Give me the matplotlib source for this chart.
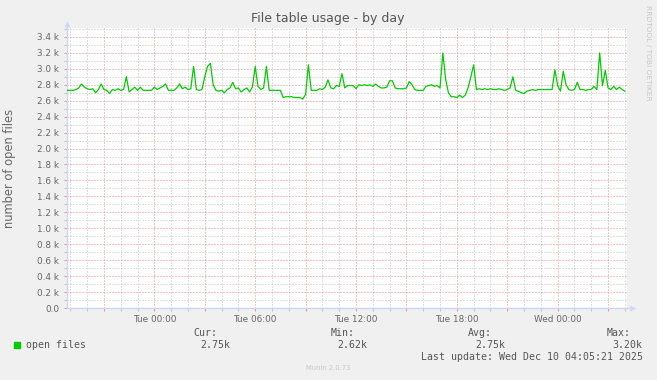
import matplotlib
matplotlib.use("Agg")
import matplotlib.pyplot as plt
import matplotlib.dates as mdates
from matplotlib.patches import Rectangle
from matplotlib.ticker import FuncFormatter, MultipleLocator
import pandas as pd

# open files, one sample per 10 minutes starting Mon 18:50
mon_evening = [2730, 2730, 2730, 2740, 2760, 2810, 2770, 2750, 2740, 2750,
               2700, 2740, 2810, 2740, 2730, 2690, 2740, 2730, 2750, 2730,
               2740, 2900, 2710, 2740, 2770, 2730, 2770, 2730, 2730, 2730,
               2730, 2770]
tue_night = [2740, 2760, 2780, 2810, 2730, 2730, 2730, 2760,
             2810, 2750, 2770, 2740, 2750, 3030, 2740, 2730, 2740, 2900,
             3030, 3070, 2800, 2730, 2720, 2730, 2700, 2740, 2760, 2830,
             2750, 2760, 2710, 2740, 2760, 2710, 2770, 3030, 2780, 2740,
             2760, 3030, 2730, 2730]
tue_morning = [2730, 2730, 2730, 2640, 2650, 2650,
               2650, 2640, 2640, 2640, 2620, 2680, 3050, 2730, 2730, 2730,
               2750, 2740, 2770, 2860, 2760, 2750, 2790, 2780, 2940, 2760,
               2790, 2790, 2790, 2750, 2800, 2790, 2800, 2790, 2800, 2780,
               2810, 2780]
tue_afternoon = [2760, 2760, 2770, 2850, 2850, 2760, 2750, 2750,
                 2750, 2760, 2840, 2800, 2740, 2730, 2730, 2730, 2780, 2790,
                 2800, 2780, 2790, 2760, 3200, 2870, 2700, 2650, 2650, 2640,
                 2670, 2640, 2670, 2760, 2900, 3050]
tue_evening = [2740, 2750, 2740, 2750,
               2740, 2750, 2740, 2740, 2750, 2740, 2730, 2740, 2760, 2900,
               2730, 2720, 2700, 2690, 2720, 2730, 2740, 2730, 2740, 2740,
               2740, 2740, 2740, 2740, 2990, 2790, 2720, 2970, 2800, 2740]
wed_night = [2730, 2740, 2830, 2740, 2740, 2730, 2740, 2740, 2780, 2740,
             3200, 2790, 2980, 2760, 2740, 2780, 2740, 2770, 2740, 2720]

open_files = mon_evening + tue_night + tue_morning + tue_afternoon + tue_evening + wed_night
times = pd.date_range("2025-12-08 18:50", periods=len(open_files), freq="10min")

legend_cols = ["Cur:", "Min:", "Avg:", "Max:"]
legend_vals = ["2.75k", "2.62k", "2.75k", "3.20k"]
last_update = "Last update: Wed Dec 10 04:05:21 2025"

W, H = 657, 380
FONT = "#666666"
AXIS = "#CFD6F8"
MINOR = "#c0c0c0"
MAJOR = "#ee8a8a"


def fx(px):
    return px / W


def fy(py):
    return 1 - py / H


fig = plt.figure(figsize=(W / 100, H / 100), dpi=100, facecolor="#f0f0f0")
ax = fig.add_axes([fx(66.7), fy(308), (626.7 - 66.7) / W, (308 - 28) / H])
ax.set_facecolor("white")

ax.plot(times, open_files, color="#00cc00", lw=0.9, zorder=3)

ax.set_xlim(pd.Timestamp("2025-12-08 18:47"), pd.Timestamp("2025-12-10 04:06:30"))
ax.set_ylim(0, 3512)

ax.xaxis.set_major_locator(mdates.HourLocator(byhour=range(0, 24, 3)))
ax.xaxis.set_minor_locator(mdates.HourLocator())


def xfmt(x, pos):
    d = mdates.num2date(x)
    return d.strftime("%a %H:%M") if d.hour % 6 == 0 else ""


ax.xaxis.set_major_formatter(FuncFormatter(xfmt))
ax.yaxis.set_major_locator(MultipleLocator(200))
ax.yaxis.set_minor_locator(MultipleLocator(100))
ax.yaxis.set_major_formatter(FuncFormatter(
    lambda v, p: "0.0" if v == 0 else "%.1f k" % (v / 1000)))

ax.grid(which="minor", color=MINOR, linestyle=(0, (1, 2)), lw=0.72, zorder=1)
ax.grid(which="major", color=MAJOR, linestyle=(0, (1, 2)), lw=0.72, zorder=2)

for s in ("top", "right"):
    ax.spines[s].set_visible(False)
for s in ("left", "bottom"):
    ax.spines[s].set_color(AXIS)
    ax.spines[s].set_linewidth(1)

ax.tick_params(which="both", labelsize=6.4, labelcolor=FONT, length=2, width=0.7)
ax.tick_params(which="major", colors=MAJOR, labelcolor=FONT)
ax.tick_params(which="minor", colors=MINOR)
ax.tick_params(axis="y", pad=3.6)
ax.tick_params(axis="x", pad=2.8)

# axis arrows
ax.plot([1, 1.012], [0, 0], transform=ax.transAxes, color=AXIS, lw=1, clip_on=False)
ax.plot([1.012], [0], transform=ax.transAxes, marker=">", ms=4, color=AXIS,
        clip_on=False, mec="none")
ax.plot([0, 0], [1, 1.015], transform=ax.transAxes, color=AXIS, lw=1, clip_on=False)
ax.plot([0], [1.015], transform=ax.transAxes, marker="^", ms=4, color=AXIS,
        clip_on=False, mec="none")

fig.text(fx(328), fy(18.5), "File table usage - by day", ha="center", va="center",
         fontsize=9, color="#555555")
fig.text(fx(10), fy(168), "number of open files", rotation=90, ha="center",
         va="center", fontsize=8.3, color=FONT)
fig.text(fx(648), fy(53), "RRDTOOL / TOBI OETIKER", rotation=270, ha="center",
         va="center", fontsize=5.4, color="#c8c8c8")
fig.text(fx(328), fy(368.5), "Munin 2.0.73", ha="center", va="center",
         fontsize=4.9, color="#c8c8c8")

# legend block
mono = dict(family="DejaVu Sans Mono", fontsize=7.1, color="#555555", va="center")
fig.patches.append(Rectangle((fx(14), fy(348)), 6 / W, 6 / H, color="#00cc00",
                             transform=fig.transFigure, figure=fig))
fig.text(fx(26), fy(345), "open files", ha="left", **mono)
col_right = [217, 355, 492.3, 630.7]
val_right = [230, 367.7, 505, 642.7]
for lab, val, cr, vr in zip(legend_cols, legend_vals, col_right, val_right):
    fig.text(fx(cr), fy(333), lab, ha="right", **mono)
    fig.text(fx(vr), fy(345), val, ha="right", **mono)
fig.text(fx(642.7), fy(357), last_update, ha="right", **mono)

fig.savefig("out.png", dpi=100, facecolor=fig.get_facecolor())
